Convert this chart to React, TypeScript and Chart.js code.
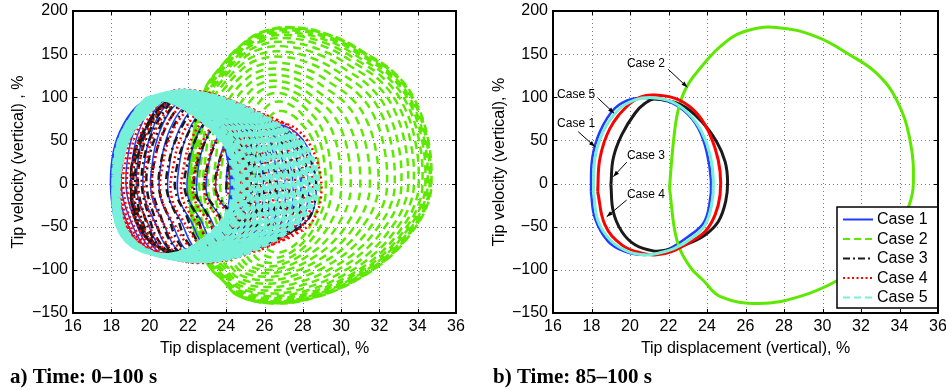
import React, { useEffect, useRef } from 'react';
import { Chart, registerables } from 'chart.js';

Chart.register(...registerables);

const SANS = "'Liberation Sans', Arial, Helvetica, sans-serif";
const SERIF = "'Liberation Serif', 'Times New Roman', serif";

// Axis ticks (displacement %, velocity %)
const xTickValues = [16, 18, 20, 22, 24, 26, 28, 30, 32, 34, 36];
const yTickValues = [-150, -100, -50, 0, 50, 100, 150, 200];

const caseLabels = ['Case 1', 'Case 2', 'Case 3', 'Case 4', 'Case 5'];
const caseColors = ['#1f3cff', '#5de800', '#1a1a1a', '#ff0000', '#76f0d9'];

// Settled loops, 85–100 s: displacement (x) and velocity (y), in %
const case1X = [17.97, 18.04, 18.44, 19.22, 20.09, 20.95, 21.99, 22.86, 23.55, 23.98, 24.21, 24.12, 23.81, 23.03, 22.16, 21.39, 20.61, 19.74, 18.87, 18.18];
const case1Y = [-9.3, 29.3, 60.2, 87.3, 98.0, 98.8, 95.0, 83.4, 64.0, 37.0, 2.3, -24.7, -46.0, -61.4, -74.1, -80.7, -82.6, -78.8, -67.2, -40.2];

const case2X = [22.05, 22.25, 22.5, 22.94, 23.7, 24.7, 25.9, 27.6, 29.7, 31.43, 32.8, 33.85, 34.55, 34.72, 34.5, 33.9, 32.6, 30.8, 28.8, 26.7, 24.7, 23.8, 23.1, 22.43];
const case2Y = [-5, 47, 85, 112, 135, 159, 176, 181, 170, 149, 128, 97, 50, 0, -25, -50, -84, -112, -131, -139, -131, -112, -96, -65];

const case3X = [19.01, 19.13, 19.57, 20.26, 20.78, 21.3, 22.68, 23.72, 24.5, 24.94, 25.07, 24.97, 24.59, 23.9, 22.86, 21.99, 21.21, 20.26, 19.57, 19.13];
const case3Y = [-1.5, 29.3, 56.4, 81.5, 93, 98, 91, 72, 48.6, 25.5, 2.3, -20.8, -44, -59.5, -71, -76.8, -78, -71, -55.6, -32.4];

const case4X = [18.32, 18.44, 18.96, 19.91, 20.61, 21.21, 22.34, 23.2, 23.9, 24.42, 24.68, 24.68, 24.42, 23.9, 23.03, 22.16, 21.39, 20.61, 19.57, 18.7];
const case4Y = [-9.3, 29.3, 64, 91, 100.8, 102.7, 98.8, 87.3, 68, 41, 14, -13, -36.3, -55.6, -69, -78.8, -82.6, -80.7, -71, -47.9];

const case5X = [18.1, 18.18, 18.61, 19.39, 20.26, 21.13, 22.16, 23.03, 23.72, 24.16, 24.33, 24.24, 23.9, 23.2, 22.34, 21.47, 20.78, 19.91, 19.05, 18.35];
const case5Y = [-9.3, 29.3, 60.2, 85.3, 96.9, 99.6, 95, 81.5, 60.2, 33.2, 2.3, -24.7, -47.9, -63.3, -74.9, -80.7, -82.6, -78.8, -67.2, -44];

// Outline of the early Case 5 loops, 0–100 s
const case5EdgeX = [17.8, 17.93, 18.45, 19.5, 20.3, 21.07, 22.28, 23.8, 25.24, 26.4, 27.33, 28.1, 28.55, 28.8, 28.65, 27.68, 26.9, 26.1, 25.2, 24.37, 22.63, 20.54, 19.15, 18.3, 17.9];
const case5EdgeY = [0, 25, 58, 85, 100, 108.5, 106.5, 98, 85, 72, 58, 44, 27, 5, -18, -46, -59, -69, -78, -84.7, -90.5, -86, -75, -58, -36];

// Successive loops over 0–100 s: leftmost / rightmost displacement, peak / lowest velocity
const case1Left = [24.0, 23.5, 23.0, 22.5, 22.0, 21.5, 21.0, 20.55, 20.1, 19.7, 19.35, 19.05, 18.8, 18.55, 18.35, 18.2, 18.08, 18.01, 17.97];
const case1Right = [28.7, 28.3, 27.9, 27.5, 27.1, 26.7, 26.3, 25.95, 25.6, 25.3, 25.05, 24.85, 24.68, 24.54, 24.42, 24.33, 24.27, 24.23, 24.21];
const case1Top = [70, 74, 78, 82, 87, 91, 94, 97, 100, 102, 103.5, 104.5, 105, 104, 103, 101.5, 100.3, 99.4, 98.8];
const case1Bottom = [-66, -71, -76, -80, -84, -87, -89, -90, -90, -89.5, -89, -88, -87, -86, -85, -84, -83.3, -82.9, -82.6];

const case2Left = [25.4, 25.0, 24.6, 24.1, 23.7, 23.35, 23.05, 22.8, 22.6, 22.45, 22.33, 22.24, 22.17, 22.12, 22.09, 22.07, 22.06, 22.05, 22.05, 22.05];
const case2Right = [28.9, 29.2, 29.5, 30.0, 30.5, 31.0, 31.5, 31.95, 32.4, 32.8, 33.15, 33.5, 33.8, 34.05, 34.25, 34.4, 34.52, 34.62, 34.68, 34.72];
const case2Top = [84, 95, 105, 112, 119, 126, 133, 140, 147, 153, 159, 164, 168.5, 172, 175, 177.5, 179.2, 180.3, 180.8, 181];
const case2Bottom = [-80, -86, -92, -96, -100, -104, -108, -112, -116, -120, -124, -127.5, -130.5, -133, -135, -136.5, -137.5, -138.3, -138.8, -139];

const case3Left = [24.0, 23.45, 22.9, 22.35, 21.85, 21.35, 20.9, 20.5, 20.15, 19.85, 19.6, 19.4, 19.25, 19.15, 19.08, 19.03, 19.01];
const case3Right = [28.7, 28.35, 28.0, 27.65, 27.3, 26.95, 26.6, 26.3, 26.0, 25.75, 25.55, 25.4, 25.28, 25.18, 25.12, 25.09, 25.07];
const case3Top = [70, 75, 80, 85, 90, 94, 98, 101, 103, 104, 104, 103, 102, 100.5, 99.5, 98.5, 98];
const case3Bottom = [-66, -71, -76, -80, -84, -87, -89, -89.5, -89, -88, -86, -84, -82, -80.5, -79.5, -78.5, -78];

const case4Left = [24.1, 23.5, 22.9, 22.3, 21.7, 21.15, 20.6, 20.15, 19.75, 19.4, 19.1, 18.85, 18.65, 18.52, 18.43, 18.37, 18.34, 18.32];
const case4Right = [28.95, 28.5, 28.05, 27.6, 27.2, 26.8, 26.45, 26.1, 25.78, 25.52, 25.3, 25.1, 24.96, 24.85, 24.77, 24.72, 24.69, 24.68];
const case4Top = [72, 77, 82, 87, 92, 96, 100, 103, 106, 107.5, 108.5, 108.5, 107, 106, 105, 104, 103.3, 102.7];
const case4Bottom = [-68, -73, -78, -82, -86, -89, -91, -92, -92, -91, -90, -88.5, -87, -85.5, -84.5, -83.7, -83.1, -82.6];

const case5Left = [18.4, 18.39, 18.38, 18.37, 18.36, 18.35, 18.34, 18.33, 18.32, 18.31, 18.3, 18.29, 18.28, 18.27, 18.26, 18.25, 18.24, 18.23, 18.22, 18.21, 18.2, 18.19, 18.18, 18.17, 18.16, 18.15, 18.14, 18.14, 18.13, 18.13, 18.12, 18.12, 18.11, 18.11, 18.1, 18.1];
const case5Right = [28.8, 28.65, 28.5, 28.35, 28.2, 28.05, 27.9, 27.75, 27.6, 27.45, 27.3, 27.15, 27.0, 26.85, 26.7, 26.55, 26.4, 26.25, 26.1, 25.95, 25.8, 25.66, 25.52, 25.39, 25.27, 25.16, 25.06, 24.97, 24.89, 24.81, 24.74, 24.67, 24.61, 24.55, 24.5, 24.46];
const case5Top = [107, 107, 106.8, 106.6, 106.4, 106.2, 106, 105.8, 105.6, 105.4, 105.2, 105, 104.7, 104.4, 104.1, 103.8, 103.5, 103.2, 102.9, 102.6, 102.3, 102, 101.7, 101.4, 101.1, 100.8, 100.6, 100.4, 100.2, 100.1, 100, 99.9, 99.8, 99.7, 99.6, 99.6];
const case5Bottom = [-90, -90, -89.8, -89.6, -89.4, -89.2, -89, -88.8, -88.6, -88.4, -88.2, -88, -87.7, -87.4, -87.1, -86.8, -86.5, -86.2, -85.9, -85.6, -85.3, -85, -84.7, -84.4, -84.1, -83.8, -83.6, -83.4, -83.2, -83.1, -83, -82.9, -82.8, -82.7, -82.6, -82.6];

// Callout labels on the settled-loop panel
const noteText = ['Case 2', 'Case 5', 'Case 1', 'Case 3', 'Case 4'];
const noteX = [19.84, 16.21, 16.21, 19.84, 19.84];
const noteY = [138.6, 103.5, 69, 32.3, -13.2];
const noteFromX = [21.99, 18.35, 17.31, 19.83, 19.83];
const noteFromY = [132.4, 98.8, 60.1, 24.7, -19];
const noteToX = [22.98, 19.17, 18.18, 19.13, 18.79];
const noteToY = [111.6, 81.5, 42.8, 8, -38.4];

type Pt = { x: number; y: number };

function closedLoop(xs: number[], ys: number[]): Pt[] {
  const pts = xs.map((x, i) => ({ x, y: ys[i] }));
  pts.push({ ...pts[0] });
  return pts;
}

// Chain of loops: each loop is the outline (xs, ys) fitted to one loop's extents
function loopChain(xs: number[], ys: number[], left: number[], right: number[], top: number[], bottom: number[]): Pt[] {
  const minX = Math.min(...xs), maxX = Math.max(...xs);
  const minY = Math.min(...ys), maxY = Math.max(...ys);
  const pts: Pt[] = [];
  for (let k = 0; k < left.length; k++) {
    for (let i = 0; i < xs.length; i++) {
      const u = (xs[i] - minX) / (maxX - minX);
      const v = (ys[i] - minY) / (maxY - minY);
      pts.push({ x: left[k] + u * (right[k] - left[k]), y: bottom[k] + v * (top[k] - bottom[k]) });
    }
  }
  pts.push({ ...pts[pts.length - xs.length] });
  return pts;
}

const fmtTick = (v: any) => String(v).replace('-', '\u2212');

const legendDash: number[][] = [[], [7, 4], [7, 3, 2, 3], [2, 2.5], [7, 4]];

function axes(yTitle: string, yWidth: number, yTitlePad: number) {
  const font = { family: SANS, size: 16 };
  return {
    x: {
      type: 'linear',
      min: xTickValues[0],
      max: xTickValues[xTickValues.length - 1],
      afterBuildTicks: (s: any) => { s.ticks = xTickValues.map((v) => ({ value: v })); },
      ticks: { padding: 4, color: '#000', font, autoSkip: false, maxRotation: 0, callback: fmtTick },
      grid: { display: false, drawTicks: false },
      border: { display: false },
      title: { display: true, text: 'Tip displacement (vertical), %', color: '#000', font, padding: { top: 0, bottom: 32 } },
      afterFit: (s: any) => { s.height = 77; s.paddingLeft = 0; s.paddingRight = 0; },
    },
    y: {
      type: 'linear',
      min: yTickValues[0],
      max: yTickValues[yTickValues.length - 1],
      afterBuildTicks: (s: any) => { s.ticks = yTickValues.map((v) => ({ value: v })); },
      ticks: { padding: 5, color: '#000', font, autoSkip: false, callback: fmtTick },
      grid: { display: false, drawTicks: false },
      border: { display: false },
      title: { display: true, text: yTitle, color: '#000', font, padding: { top: yTitlePad, bottom: 0 } },
      afterFit: (s: any) => { s.width = yWidth; s.paddingTop = 0; s.paddingBottom = 0; },
    },
  };
}

function drawArrow(ctx: CanvasRenderingContext2D, x1: number, y1: number, x2: number, y2: number) {
  ctx.beginPath();
  ctx.moveTo(x1, y1);
  ctx.lineTo(x2, y2);
  ctx.stroke();
  const a = Math.atan2(y2 - y1, x2 - x1);
  const len = 6, half = 2.2;
  ctx.beginPath();
  ctx.moveTo(x2, y2);
  ctx.lineTo(x2 - len * Math.cos(a) + half * Math.sin(a), y2 - len * Math.sin(a) - half * Math.cos(a));
  ctx.lineTo(x2 - len * Math.cos(a) - half * Math.sin(a), y2 - len * Math.sin(a) + half * Math.cos(a));
  ctx.closePath();
  ctx.fill();
}

function panelDecor(label: string, labelX: number, withLegend: boolean, withNotes: boolean) {
  return {
    id: 'panelDecor',
    beforeDatasetsDraw(chart: any) {
      const { ctx, chartArea: a, scales } = chart;
      ctx.save();
      ctx.strokeStyle = 'rgba(0,0,0,0.5)';
      ctx.lineWidth = 1;
      ctx.setLineDash([1, 3]);
      ctx.beginPath();
      for (const v of xTickValues.slice(1, -1)) {
        const px = Math.round(scales.x.getPixelForValue(v)) + 0.5;
        ctx.moveTo(px, a.top);
        ctx.lineTo(px, a.bottom);
      }
      for (const v of yTickValues.slice(1, -1)) {
        const py = Math.round(scales.y.getPixelForValue(v)) + 0.5;
        ctx.moveTo(a.left, py);
        ctx.lineTo(a.right, py);
      }
      ctx.stroke();
      ctx.restore();
    },
    afterDatasetsDraw(chart: any) {
      const { ctx, chartArea: a, scales } = chart;
      ctx.save();
      // inward tick marks
      ctx.strokeStyle = '#000';
      ctx.lineWidth = 1;
      ctx.beginPath();
      for (const v of xTickValues) {
        const px = Math.round(scales.x.getPixelForValue(v)) + 0.5;
        ctx.moveTo(px, a.bottom); ctx.lineTo(px, a.bottom - 4);
        ctx.moveTo(px, a.top); ctx.lineTo(px, a.top + 4);
      }
      for (const v of yTickValues) {
        const py = Math.round(scales.y.getPixelForValue(v)) + 0.5;
        ctx.moveTo(a.left, py); ctx.lineTo(a.left + 4, py);
        ctx.moveTo(a.right, py); ctx.lineTo(a.right - 4, py);
      }
      ctx.stroke();

      if (withNotes) {
        ctx.fillStyle = '#000';
        ctx.strokeStyle = '#000';
        ctx.lineWidth = 1;
        ctx.font = `12px ${SANS}`;
        ctx.textAlign = 'left';
        ctx.textBaseline = 'middle';
        noteText.forEach((t, i) => {
          ctx.fillText(t, scales.x.getPixelForValue(noteX[i]), scales.y.getPixelForValue(noteY[i]));
          drawArrow(
            ctx,
            scales.x.getPixelForValue(noteFromX[i]), scales.y.getPixelForValue(noteFromY[i]),
            scales.x.getPixelForValue(noteToX[i]), scales.y.getPixelForValue(noteToY[i]),
          );
        });
      }

      if (withLegend) {
        const w = 101, h = 101;
        const bx = a.right - w, by = a.bottom - 5 - h;
        ctx.fillStyle = '#fff';
        ctx.fillRect(bx, by, w, h);
        ctx.strokeStyle = '#000';
        ctx.lineWidth = 1.5;
        ctx.strokeRect(bx, by, w, h);
        ctx.font = `16px ${SANS}`;
        ctx.textAlign = 'left';
        ctx.textBaseline = 'middle';
        caseLabels.forEach((t, i) => {
          const y = by + 12.5 + i * 19.5;
          ctx.strokeStyle = caseColors[i];
          ctx.lineWidth = 2;
          ctx.setLineDash(legendDash[i]);
          ctx.beginPath();
          ctx.moveTo(bx + 6, y);
          ctx.lineTo(bx + 36, y);
          ctx.stroke();
          ctx.setLineDash([]);
          ctx.fillStyle = '#000';
          ctx.fillText(t, bx + 40, y + 0.5);
        });
      }

      // axes box
      ctx.strokeStyle = '#000';
      ctx.lineWidth = 2;
      ctx.setLineDash([]);
      ctx.strokeRect(a.left, a.top, a.right - a.left, a.bottom - a.top);

      // panel caption
      ctx.fillStyle = '#000';
      ctx.font = `bold 21px ${SERIF}`;
      ctx.textAlign = 'left';
      ctx.textBaseline = 'alphabetic';
      ctx.fillText(label, labelX, 383);
      ctx.restore();
    },
  };
}

function transientConfig(): any {
  const line = (i: number, data: Pt[], width: number, dash: number[], order: number) => ({
    label: caseLabels[i],
    data,
    showLine: true,
    borderColor: caseColors[i],
    borderWidth: width,
    borderDash: dash,
    pointRadius: 0,
    tension: 0.4,
    fill: false,
    order,
  });
  return {
    type: 'scatter',
    data: {
      datasets: [
        line(0, loopChain(case1X, case1Y, case1Left, case1Right, case1Top, case1Bottom), 1.5, [], 4),
        line(1, loopChain(case2X, case2Y, case2Left, case2Right, case2Top, case2Bottom), 2.5, [8, 5], 5),
        line(2, loopChain(case3X, case3Y, case3Left, case3Right, case3Top, case3Bottom), 2.5, [8, 4, 2, 4], 3),
        line(3, loopChain(case4X, case4Y, case4Left, case4Right, case4Top, case4Bottom), 2.5, [2, 3], 2),
        line(4, loopChain(case5EdgeX, case5EdgeY, case5Left, case5Right, case5Top, case5Bottom).concat(closedLoop(case5X, case5Y)), 4, [6, 4], 1),
      ],
    },
    options: {
      responsive: false,
      animation: false,
      devicePixelRatio: 1,
      events: [],
      layout: { padding: { left: 0, top: 11, right: 14, bottom: 0 } },
      plugins: { legend: { display: false }, tooltip: { enabled: false } },
      scales: axes('Tip velocity (vertical) , %', 73, 9),
    },
    plugins: [panelDecor('a) Time: 0\u2013100 s', 10, false, false)],
  };
}

function settledConfig(): any {
  const widths = [2.5, 3, 3, 3, 3];
  const orders = [5, 4, 3, 2, 1];
  const loops = [
    closedLoop(case1X, case1Y),
    closedLoop(case2X, case2Y),
    closedLoop(case3X, case3Y),
    closedLoop(case4X, case4Y),
    closedLoop(case5X, case5Y),
  ];
  return {
    type: 'scatter',
    data: {
      datasets: loops.map((data, i) => ({
        label: caseLabels[i],
        data,
        showLine: true,
        borderColor: caseColors[i],
        borderWidth: widths[i],
        pointRadius: 0,
        tension: 0.4,
        fill: false,
        order: orders[i],
      })),
    },
    options: {
      responsive: false,
      animation: false,
      devicePixelRatio: 1,
      events: [],
      layout: { padding: { left: 0, top: 11, right: 8, bottom: 0 } },
      plugins: { legend: { display: false }, tooltip: { enabled: false } },
      scales: axes('Tip velocity (vertical), %', 77, 14),
    },
    plugins: [panelDecor('b) Time: 85\u2013100 s', 17, true, true)],
  };
}

export default function App() {
  const leftRef = useRef<HTMLCanvasElement>(null);
  const rightRef = useRef<HTMLCanvasElement>(null);

  useEffect(() => {
    const charts: Chart[] = [];
    if (leftRef.current) charts.push(new Chart(leftRef.current, transientConfig()));
    if (rightRef.current) charts.push(new Chart(rightRef.current, settledConfig()));
    return () => charts.forEach((c) => c.destroy());
  }, []);

  return (
    <div style={{ position: 'absolute', left: 0, top: 0, width: 946, height: 390, background: '#fff' }}>
      <canvas ref={leftRef} width={470} height={390} style={{ position: 'absolute', left: 0, top: 0, width: 470, height: 390 }} />
      <canvas ref={rightRef} width={470} height={390} style={{ position: 'absolute', left: 476, top: 0, width: 470, height: 390 }} />
    </div>
  );
}
